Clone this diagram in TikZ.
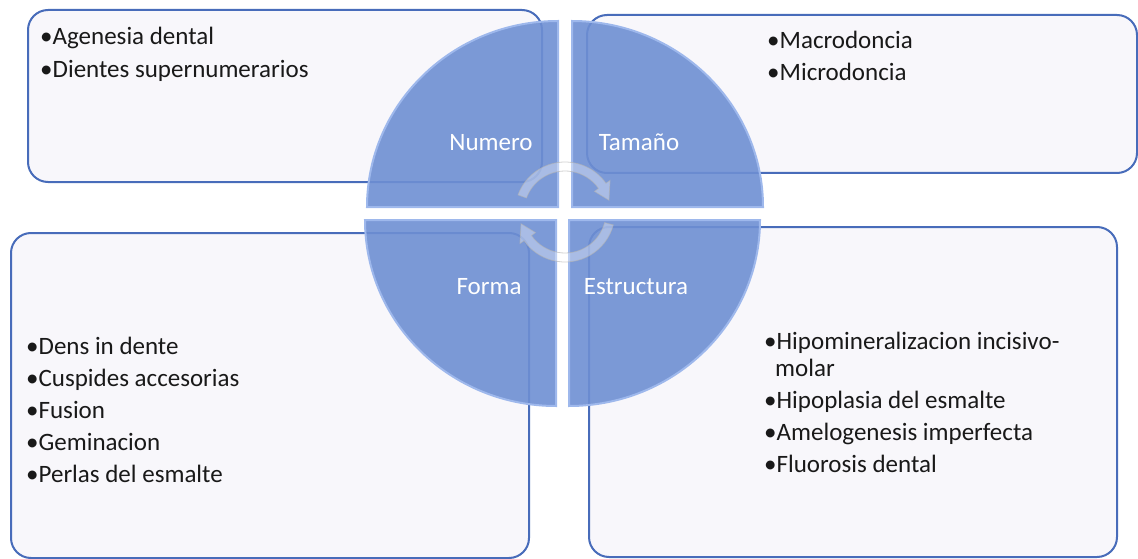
\documentclass[tikz,border=0pt]{standalone}
\usepackage{fontspec}
\setmainfont{Carlito}
\usepackage{tikz}
\usetikzlibrary{calc}
\definecolor{boxline}{RGB}{72,108,186}
\definecolor{boxfill}{RGB}{248,247,251}
\definecolor{quadfill}{RGB}{110,143,211}
\definecolor{quadedge}{RGB}{158,184,236}

\begin{document}
\begin{tikzpicture}[x=1pt,y=-1pt,
font=\fontsize{25}{27}\selectfont]
\tikzstyle{box}=[draw=boxline,line width=2pt,fill=boxfill,rounded corners=20pt,inner sep=0pt,outer sep=0pt]
\tikzstyle{items}=[anchor=north west,align=left,inner sep=0pt,text=black!90]
\tikzstyle{quad}=[fill=quadfill,fill opacity=0.9,draw=quadedge,line width=2pt]
\tikzstyle{lbl}=[anchor=base,text=white,inner sep=0pt]
\tikzstyle{cyc}=[fill=white,fill opacity=0.35,draw=black!30,draw opacity=0.6,line width=0.8pt]

\useasboundingbox (0,0) rectangle (1138,559);

% boxes
\node[box,minimum width=514,minimum height=172] (numBox) at (285,96)    {};
\node[box,minimum width=550,minimum height=158] (tamBox) at (862,94)    {};
\node[box,minimum width=518,minimum height=325] (forBox) at (270,395.5) {};
\node[box,minimum width=528,minimum height=330] (estBox) at (853,392)   {};

% circle in four pieces
\path[quad] (558,207) -- ++(-191,0) arc[start angle=180,end angle=270,x radius=191,y radius=186] -- cycle;
\path[quad] (572,207) -- ++(191,0)  arc[start angle=0,end angle=-90,x radius=191,y radius=186] -- cycle;
\path[quad] (556,220) -- ++(-191,0) arc[start angle=180,end angle=90,x radius=191,y radius=186] -- cycle;
\path[quad] (569,220) -- ++(191,0)  arc[start angle=0,end angle=90,x radius=191,y radius=186] -- cycle;

\node[lbl] (numLbl) at (491,150) {Numero};
\node[lbl] (tamLbl) at (639,150) {Tamaño};
\node[lbl] (forLbl) at (489,294) {Forma};
\node[lbl] (estLbl) at (636,294) {Estructura};

% cycle arrows
\coordinate (c) at (565,212);
\path[cyc] ([shift={(-160:50)}]c) arc[start angle=-160,end angle=-35,radius=50]
  -- ([shift={(-35:55)}]c) -- ([shift={(-15:45.5)}]c) -- ([shift={(-35:36)}]c)
  -- ([shift={(-35:41)}]c) arc[start angle=-35,end angle=-160,radius=41] -- cycle;
\path[cyc] ([shift={(15:50)}]c) arc[start angle=15,end angle=145,radius=50]
  -- ([shift={(145:55)}]c) -- ([shift={(165:45.5)}]c) -- ([shift={(145:36)}]c)
  -- ([shift={(145:41)}]c) arc[start angle=145,end angle=15,radius=41] -- cycle;

% lists
\node[items] (numList) at (40,27)  {•Agenesia dental\\[6pt]•Dientes supernumerarios};
\node[items] (tamList) at (767,31) {•Macrodoncia\\[5pt]•Microdoncia};
\node[items] (forList) at (26,337)
  {•Dens in dente\\[5pt]•Cuspides accesorias\\[5pt]•Fusion\\[5pt]•Geminacion\\[5pt]•Perlas del esmalte};
\node[items] (estList) at (764,332)
  {•Hipomineralizacion incisivo-\\\hspace*{11pt}molar\\[5pt]•Hipoplasia del esmalte\\[5pt]•Amelogenesis imperfecta\\[5pt]•Fluorosis dental};
\end{tikzpicture}
\end{document}
